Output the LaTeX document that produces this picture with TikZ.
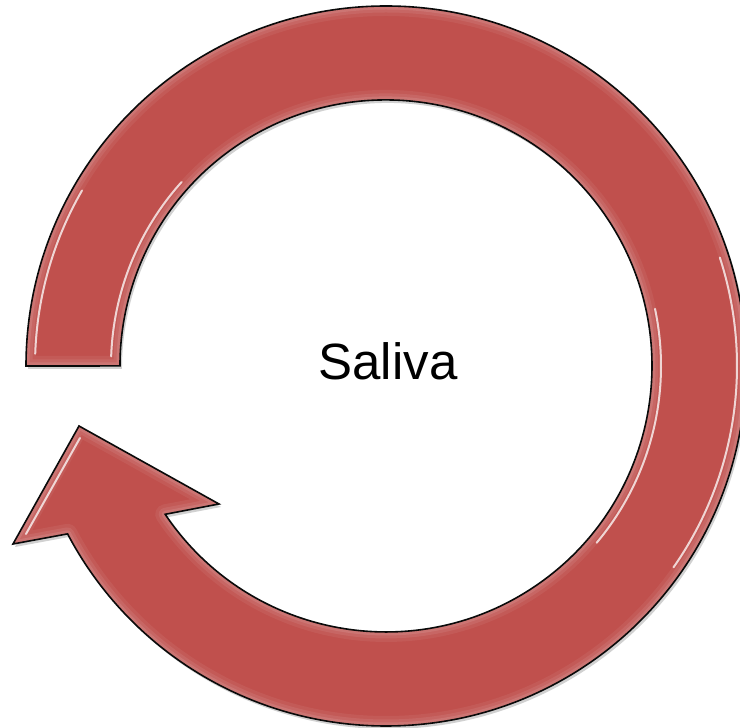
\documentclass[tikz,border=0pt]{standalone}
\usepackage{fontspec}
\setmainfont{Liberation Sans}
\definecolor{arrowred}{HTML}{C0504D}
\definecolor{edgeline}{HTML}{0A0A0A}
\begin{document}
\begin{tikzpicture}[x=1pt,y=1pt,
  bandfill/.style={fill=arrowred},
  bandedge/.style={draw=edgeline,line width=1.6pt,line join=miter},
  glow/.style={draw=white,line join=round},
  highlight/.style={draw=white,opacity=0.75,line width=2pt,line cap=round}]
\useasboundingbox (0,0) rectangle (740,728);
\coordinate (c) at (386,362);
\def\arrowpath{(26,362) arc[start angle=180,end angle=-152.2,radius=360]
  -- (13,184) -- (79,302) -- (219,224) -- (165.2,213.7)
  arc[start angle=-146.1,end angle=180,radius=266] -- cycle}
% soft shadow
\fill[black,opacity=0.18,shift={(2,-3)}] \arrowpath;
% body
\fill[bandfill] \arrowpath;
\begin{scope}
  \clip \arrowpath;
  \draw[glow,line width=20pt,opacity=0.06] \arrowpath;
  \draw[glow,line width=13pt,opacity=0.08] \arrowpath;
  \draw[glow,line width=7pt,opacity=0.10] \arrowpath;
  % inset highlight lines
  \draw[highlight]
    ([shift={(178:351)}]c) arc[start angle=178,end angle=150,radius=351];
  \draw[highlight]
    ([shift={(178:275)}]c) arc[start angle=178,end angle=138,radius=275];
  \draw[highlight]
    ([shift={(12:275)}]c) arc[start angle=12,end angle=-40,radius=275];
  \draw[highlight]
    ([shift={(18:351)}]c) arc[start angle=18,end angle=-35,radius=351];
  \draw[highlight] (26,194) -- (80,290);
\end{scope}
\draw[bandedge] \arrowpath;
\node[font=\fontsize{51}{61}\selectfont,anchor=base] (saliva) at (388,348) {Saliva};
\end{tikzpicture}
\end{document}
